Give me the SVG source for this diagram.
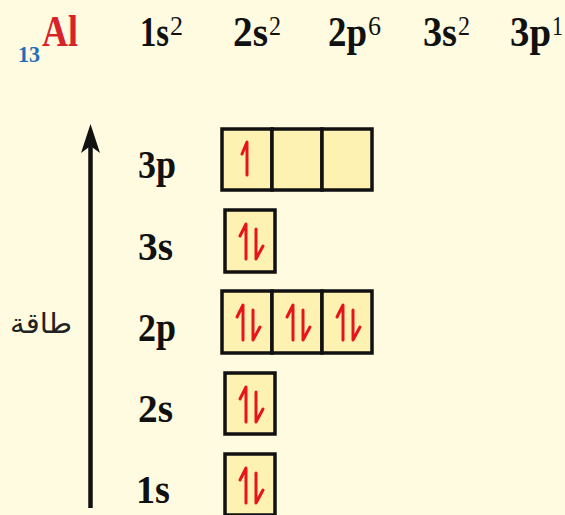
<svg xmlns="http://www.w3.org/2000/svg" xmlns:xlink="http://www.w3.org/1999/xlink" width="565" height="515" viewBox="0 0 565 515">
<style>
.hdr{font-family:"Liberation Serif",serif;font-weight:bold;font-size:43px;fill:#111}
.sup{font-weight:normal;font-size:28px}
.lbl{font-family:"Liberation Serif",serif;font-weight:bold;font-size:41px;fill:#111}
.cell{fill:#FDF2B2;stroke:#111;stroke-width:3.5}
.e{fill:none;stroke:#E8141C;stroke-width:3;stroke-linecap:round;stroke-linejoin:round}
</style>
<defs>
<g id="up"><path class="e" d="M25,46 V13 L20,25"/></g>
<g id="pair"><path class="e" d="M21,49 V14 L15,26"/><path class="e" d="M31,19 V49 L38,36"/></g>
</defs>
<rect width="565" height="515" fill="#FFFBE0"/>
<g id="header">
<text font-family="Liberation Serif, serif" font-weight="bold"><tspan x="18" y="62" font-size="24" fill="#1E6FB5" textLength="22" lengthAdjust="spacingAndGlyphs">13</tspan><tspan x="42" y="46" font-size="44" fill="#D9232A" textLength="36" lengthAdjust="spacingAndGlyphs">Al</tspan></text>
<text class="hdr"><tspan x="140" y="46" textLength="29" lengthAdjust="spacingAndGlyphs">1s</tspan><tspan class="sup" x="170" y="35" textLength="13" lengthAdjust="spacingAndGlyphs">2</tspan></text>
<text class="hdr"><tspan x="233" y="46" textLength="35" lengthAdjust="spacingAndGlyphs">2s</tspan><tspan class="sup" x="269" y="35" textLength="12" lengthAdjust="spacingAndGlyphs">2</tspan></text>
<text class="hdr"><tspan x="328" y="46" textLength="39" lengthAdjust="spacingAndGlyphs">2p</tspan><tspan class="sup" x="368" y="35" textLength="13" lengthAdjust="spacingAndGlyphs">6</tspan></text>
<text class="hdr"><tspan x="423" y="46" textLength="34" lengthAdjust="spacingAndGlyphs">3s</tspan><tspan class="sup" x="458" y="35" textLength="12" lengthAdjust="spacingAndGlyphs">2</tspan></text>
<text class="hdr"><tspan x="510" y="46" textLength="41" lengthAdjust="spacingAndGlyphs">3p</tspan><tspan class="sup" x="552" y="35" textLength="11" lengthAdjust="spacingAndGlyphs">1</tspan></text>
</g>
<g id="connectors">
<line x1="90.5" y1="508" x2="90.5" y2="145" stroke="#111" stroke-width="4.5"/>
<path d="M90.5,124 L100,153 L90.5,146 L81,153 Z" fill="#111"/>
</g>
<g id="axis-label">
<text x="10" y="333" font-family="DejaVu Sans, sans-serif" font-size="28" fill="#222" textLength="62" lengthAdjust="spacingAndGlyphs">طاقة</text>
</g>
<g id="labels">
<text class="lbl" x="138" y="178" textLength="38" lengthAdjust="spacingAndGlyphs">3p</text>
<text class="lbl" x="138" y="260" textLength="35" lengthAdjust="spacingAndGlyphs">3s</text>
<text class="lbl" x="138" y="341" textLength="38" lengthAdjust="spacingAndGlyphs">2p</text>
<text class="lbl" x="138" y="422" textLength="35" lengthAdjust="spacingAndGlyphs">2s</text>
<text class="lbl" x="136" y="503" textLength="34" lengthAdjust="spacingAndGlyphs">1s</text>
</g>
<g id="orb-3p">
<rect class="cell" x="222" y="129" width="50" height="61"/>
<rect class="cell" x="272" y="129" width="50" height="61"/>
<rect class="cell" x="322" y="129" width="50" height="61"/>
<use xlink:href="#up" x="222" y="129"/>
</g>
<g id="orb-3s">
<rect class="cell" x="225" y="210" width="50" height="62"/>
<use xlink:href="#pair" x="225" y="210"/>
</g>
<g id="orb-2p">
<rect class="cell" x="222" y="291" width="50" height="62"/>
<rect class="cell" x="272" y="291" width="50" height="62"/>
<rect class="cell" x="322" y="291" width="50" height="62"/>
<use xlink:href="#pair" x="222" y="291"/>
<use xlink:href="#pair" x="272" y="291"/>
<use xlink:href="#pair" x="322" y="291"/>
</g>
<g id="orb-2s">
<rect class="cell" x="225" y="373" width="50" height="61"/>
<use xlink:href="#pair" x="225" y="373"/>
</g>
<g id="orb-1s">
<rect class="cell" x="225" y="454" width="50" height="61"/>
<use xlink:href="#pair" x="225" y="454"/>
</g>
</svg>
